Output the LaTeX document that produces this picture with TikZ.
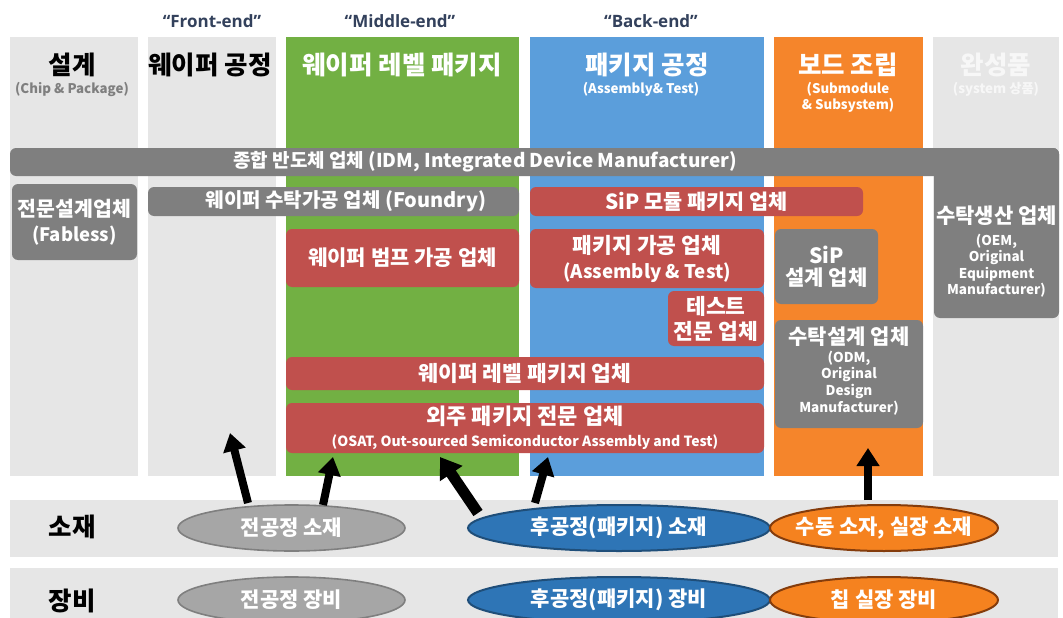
\documentclass[tikz,border=0pt]{standalone}
\usepackage{fontspec}
\setmainfont{Noto Sans CJK KR}
\newfontfamily\latinf{Open Sans}
\usetikzlibrary{arrows.meta,shapes.geometric}
\definecolor{colg}{HTML}{E6E6E6}
\definecolor{cgreen}{HTML}{72B043}
\definecolor{cblue}{HTML}{5B9EDB}
\definecolor{corange}{HTML}{F5852B}
\definecolor{bgray}{HTML}{7F7F7F}
\definecolor{bred}{HTML}{C0504D}
\definecolor{phasec}{HTML}{33415C}
\definecolor{subgray}{HTML}{7F7F7F}
\definecolor{faint}{HTML}{F7F7F7}
\definecolor{egray}{HTML}{A6A6A6}
\definecolor{egrayd}{HTML}{7F7F7F}
\definecolor{eblue}{HTML}{2E75B6}
\definecolor{eblued}{HTML}{1F4E79}
\definecolor{eorange}{HTML}{F5821F}
\definecolor{eoranged}{HTML}{843C0C}
\newcommand\fsz[2]{\fontsize{#1}{#2}\selectfont}
\begin{document}
\begin{tikzpicture}[x=1pt,y=-1pt,
  col/.style={rectangle, inner sep=0pt, draw=none, minimum height=439pt},
  box/.style={rectangle, rounded corners=6pt, inner sep=0pt, text=white, align=center, font=\bfseries\fsz{21}{24}},
  gbox/.style={box, fill=bgray},
  rbox/.style={box, fill=bred},
  head/.style={inner sep=0pt, font=\bfseries\fsz{25.5}{28}},
  sub/.style={inner sep=0pt, align=center, font=\bfseries\fsz{13.3}{16}},
  phase/.style={inner sep=0pt, text=phasec, font=\latinf\bfseries\fsz{17}{20}},
  band/.style={rectangle, inner sep=0pt, fill=colg, minimum width=1048pt},
  ell/.style={ellipse, inner xsep=-60pt, inner ysep=-20pt, minimum width=227pt, minimum height=46pt, line width=1.6pt, text=white, font=\bfseries\fsz{21}{24}},
  ellg/.style={ell, fill=egray, draw=egrayd},
  ellb/.style={ell, fill=eblue, draw=eblued, line width=2pt, minimum width=302pt},
  ello/.style={ell, fill=eorange, draw=eoranged, line width=2pt, minimum width=228pt},
  arr/.style={line width=8pt, -{Triangle[width=22pt,length=18pt]}}
]
\useasboundingbox (0,0) rectangle (1063,618);
\fill[white] (0,0) rectangle (1063,618);

% columns
\node[col, fill=colg, minimum width=128pt] (c1) at (74,256.5) {};
\node[col, fill=colg, minimum width=128pt] (c2) at (212,256.5) {};
\node[col, fill=cgreen, minimum width=233pt] (c3) at (402.5,256.5) {};
\node[col, fill=cblue, minimum width=234pt] (c4) at (647,256.5) {};
\node[col, fill=corange, minimum width=149pt] (c5) at (848.5,256.5) {};
\node[col, fill=colg, minimum width=126pt] (c6) at (996,256.5) {};

% phase labels
\node[phase] (p1) at (212,21) {“Front-end”};
\node[phase] (p2) at (400,21) {“Middle-end”};
\node[phase] (p3) at (651,21) {“Back-end”};

% headings
\node[head] (h1) at (72,65) {설계};
\node[sub, text=subgray] (s1) at (72,89) {(Chip \& Package)};
\node[head] (h2) at (210,65) {웨이퍼 공정};
\node[head, text=white] (h3) at (402,65) {웨이퍼 레벨 패키지};
\node[head, text=white] (h4) at (647,65) {패키지 공정};
\node[sub, text=white] (s4) at (641,89) {(Assembly\& Test)};
\node[head, text=white] (h5) at (848,65) {보드 조립};
\node[sub, text=white] (s5) at (848,97) {(Submodule\\ \& Subsystem)};
\node[head, text=faint] (h6) at (996,65) {완성품};
\node[sub, text=faint] (s6) at (996,89) {(system 상품)};

% companies
\node[gbox, minimum width=125pt, minimum height=170pt] (oem) at (996.5,233) {};
\node[gbox, minimum width=1049pt, minimum height=28pt] (idm) at (534.5,162) {};
\node[box, font=\bfseries\fsz{19}{22}] (idmt) at (485,162) {종합 반도체 업체 (IDM, Integrated Device Manufacturer)};
\node[box, font=\bfseries\fsz{13.5}{16.5}] (oemt) at (996.5,252)
  {{\fsz{21}{24}수탁생산 업체}\\[5pt](OEM,\\Original\\Equipment\\Manufacturer)};
\node[gbox, minimum width=125pt, minimum height=76pt, font=\bfseries\fsz{20.5}{25}] (fab) at (74.5,222) {전문설계업체\\{\fsz{18.5}{25}(Fabless)}};
\node[gbox, minimum width=371pt, minimum height=29pt] (fdy) at (333.5,201.5) {};
\node[box, font=\bfseries\fsz{20}{22}] (fdyt) at (346,201.5) {웨이퍼 수탁가공 업체 (Foundry)};
\node[rbox, minimum width=333pt, minimum height=29pt, font=\bfseries\fsz{20.8}{22}] (sipm) at (696.5,201.5) {SiP 모듈 패키지 업체};
\node[rbox, minimum width=233pt, minimum height=58pt] (bump) at (402.5,258) {웨이퍼 범프 가공 업체};
\node[rbox, minimum width=234pt, minimum height=59pt, font=\bfseries\fsz{21.5}{25}] (asm) at (647,258.5) {패키지 가공 업체\\{\fsz{18.7}{25}(Assembly \& Test)}};
\node[gbox, minimum width=103pt, minimum height=75pt, font=\bfseries\fsz{21}{22}] (sipd) at (826.5,266.5) {SiP\\설계 업체};
\node[rbox, minimum width=96pt, minimum height=55pt, font=\bfseries\fsz{21.5}{25}] (test) at (716,318.5) {테스트\\전문 업체};
\node[gbox, minimum width=148pt, minimum height=108pt] (odm) at (849,374) {};
\node[box, font=\bfseries\fsz{13.6}{16.8}] (odmt) at (849,371)
  {{\fsz{21}{24}수탁설계 업체}\\[1pt](ODM,\\Original\\Design\\Manufacturer)};
\node[rbox, minimum width=478pt, minimum height=33pt, font=\bfseries\fsz{21.5}{24}] (wlp) at (525,373.5) {웨이퍼 레벨 패키지 업체};
\node[rbox, minimum width=478pt, minimum height=50pt, font=\bfseries\fsz{22}{22}] (osat) at (525,428)
  {외주 패키지 전문 업체\\{\fsz{14}{22}(OSAT, Out-sourced Semiconductor Assembly and Test)}};

% bottom bands
\node[band, minimum height=57pt] (b1) at (534,528.5) {};
\node[band, minimum height=52pt] (b2) at (534,594) {};
\node[head] (l1) at (72,527) {소재};
\node[head] (l2) at (72,601) {장비};

\node[ellg] (m1) at (291.5,528) {전공정 소재};
\node[ellb] (m2) at (619,528) {후공정(패키지) 소재};
\node[ello] (m3) at (884,528) {수동 소자, 실장 소재};
\node[ellg] (e1) at (291.5,600) {전공정 장비};
\node[ellb] (e2) at (619,600) {후공정(패키지) 장비};
\node[ello] (e3) at (884,600) {칩 실장 장비};

% arrows
\coordinate (t1) at (248,503); \coordinate (k1) at (230,433);
\coordinate (t2) at (323,505); \coordinate (k2) at (333,457);
\coordinate (t3) at (478,513); \coordinate (k3) at (440,457);
\coordinate (t4) at (535,503); \coordinate (k4) at (548,457);
\coordinate (t5) at (868,500); \coordinate (k5) at (868,448);
\draw[arr] (t1) -- (k1);
\draw[arr] (t2) -- (k2);
\draw[arr, line width=11pt, -{Triangle[width=26pt,length=20pt]}] (t3) -- (k3);
\draw[arr] (t4) -- (k4);
\draw[arr] (t5) -- (k5);
\end{tikzpicture}
\end{document}
